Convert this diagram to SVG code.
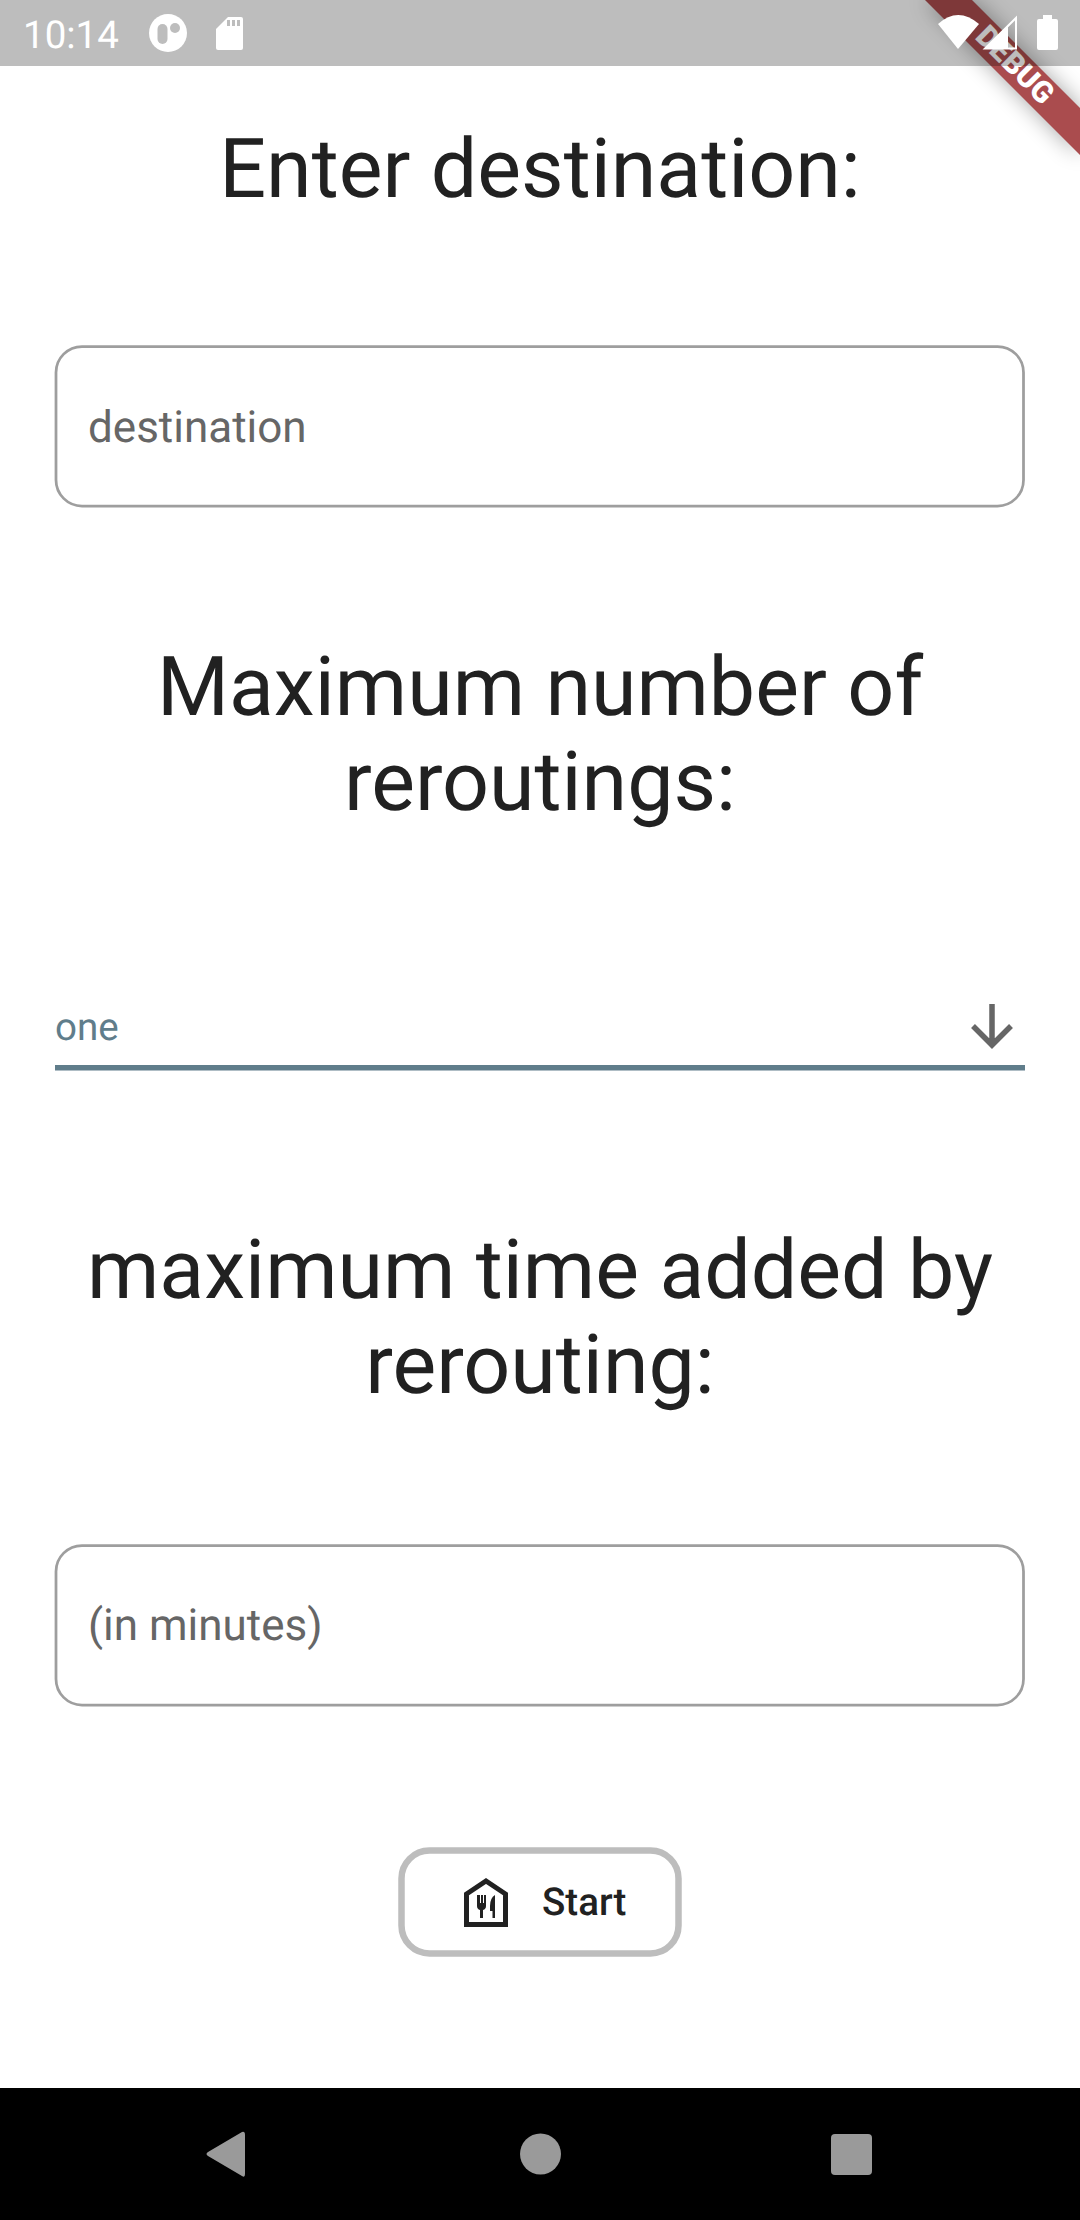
<svg xmlns="http://www.w3.org/2000/svg" width="1080" height="2220" viewBox="0 0 1080 2220">
<defs>
<style>
text{font-family:Roboto,"Liberation Sans",sans-serif;text-rendering:geometricPrecision}
.h{font-size:82.5px;fill:#212121;text-anchor:middle}
.hint{font-size:44px;fill:#666}
.field{fill:#fff;stroke:#9e9e9e;stroke-width:2.75}
.nav{fill:#9a9a9a}
</style>
<filter id="sh" x="-30%" y="-30%" width="160%" height="160%"><feGaussianBlur stdDeviation="11"/></filter>
</defs>
<rect width="1080" height="2220" fill="#fff"/>
<g id="title-destination"><text class="h" x="540" y="197">Enter destination:</text></g>
<g id="input-destination">
<rect class="field" x="56" y="346.500" width="967.500" height="159.500" rx="26"/>
<text class="hint" x="88" y="441.500">destination</text>
</g>
<g id="title-reroutings">
<text class="h" x="540" y="715">Maximum number of</text>
<text class="h" x="540" y="810">reroutings:</text>
</g>
<g id="dropdown">
<text x="55" y="1040" font-size="38.500" fill="#607d8b">one</text>
<path d="M992 1004V1045M973 1026L992 1045L1011 1026" fill="none" stroke="#666" stroke-width="5.500"/>
<rect x="55" y="1065" width="970" height="5.500" fill="#607d8b"/>
</g>
<g id="title-time">
<text class="h" x="540" y="1298">maximum time added by</text>
<text class="h" x="540" y="1393">rerouting:</text>
</g>
<g id="input-minutes">
<rect class="field" x="56" y="1545.500" width="967.500" height="159.500" rx="26"/>
<text class="hint" x="88" y="1640">(in minutes)</text>
</g>
<g id="start-button">
<rect x="401.500" y="1850.500" width="277" height="103" rx="28" fill="#fff" stroke="#bdbdbd" stroke-width="6.500"/>
<path d="M466.500 1924.500V1894L486 1881L505.500 1894V1924.500Z" fill="none" stroke="#212121" stroke-width="5"/>
<path d="M477 1895v11q0 3 3 4v8h3v-8q3-1 3-4v-11h-2v8h-1v-8h-2v8h-1v-8zM495 1895q-5 3-5 11v5h2.500v7h2.500z" fill="#212121"/>
<text x="542" y="1915" font-size="38.500" font-weight="500" fill="#212121">Start</text>
</g>
<g id="debug-banner">
<path d="M925 0H972L1080 108V155Z" fill="#000" opacity=".35" filter="url(#sh)"/>
<path d="M925 0H972L1080 108V155Z" fill="#aa4c4e"/>
<text transform="translate(1008 72) rotate(45)" font-size="30" font-weight="900" fill="#fff" text-anchor="middle">DEBUG</text>
</g>
<g id="status-bar">
<rect width="1080" height="66" fill="#000" opacity=".26"/>
<text x="23" y="48" font-size="38.500" fill="#fff">10:14</text>
<circle cx="168" cy="33" r="19" fill="#fff"/>
<rect x="157.500" y="24" width="10" height="20" rx="5" fill="#bdbdbd"/>
<circle cx="175" cy="28" r="5" fill="#bdbdbd"/>
<path d="M228 17H241Q243 17 243 19V48Q243 50 241 50H218Q216 50 216 48V29Z" fill="#fff"/>
<path d="M227 20h3v6h-3zM232 20h3v6h-3zM237 20h3v6h-3z" fill="#bdbdbd"/>
<path d="M938 24Q958 6 979 24L958 49Z" fill="#fff"/>
<path d="M1016 18V48.500H985Z" fill="none" stroke="#fff" stroke-width="2"/>
<path d="M1008 26V49H984Z" fill="#fff"/>
<path d="M1037 21Q1037 19 1039 19H1043V15H1052V19H1056Q1058 19 1058 21V48Q1058 50 1056 50H1039Q1037 50 1037 48Z" fill="#fff"/>
</g>
<g id="nav-bar">
<rect y="2088" width="1080" height="132" fill="#000"/>
<path d="M242 2132Q245 2131 245 2135V2174Q245 2178 242 2176L208 2156Q205 2154 208 2152Z" class="nav"/>
<circle class="nav" cx="540.500" cy="2154" r="20.500"/>
<rect class="nav" x="831" y="2134" width="41" height="41" rx="4"/>
</g>
</svg>
